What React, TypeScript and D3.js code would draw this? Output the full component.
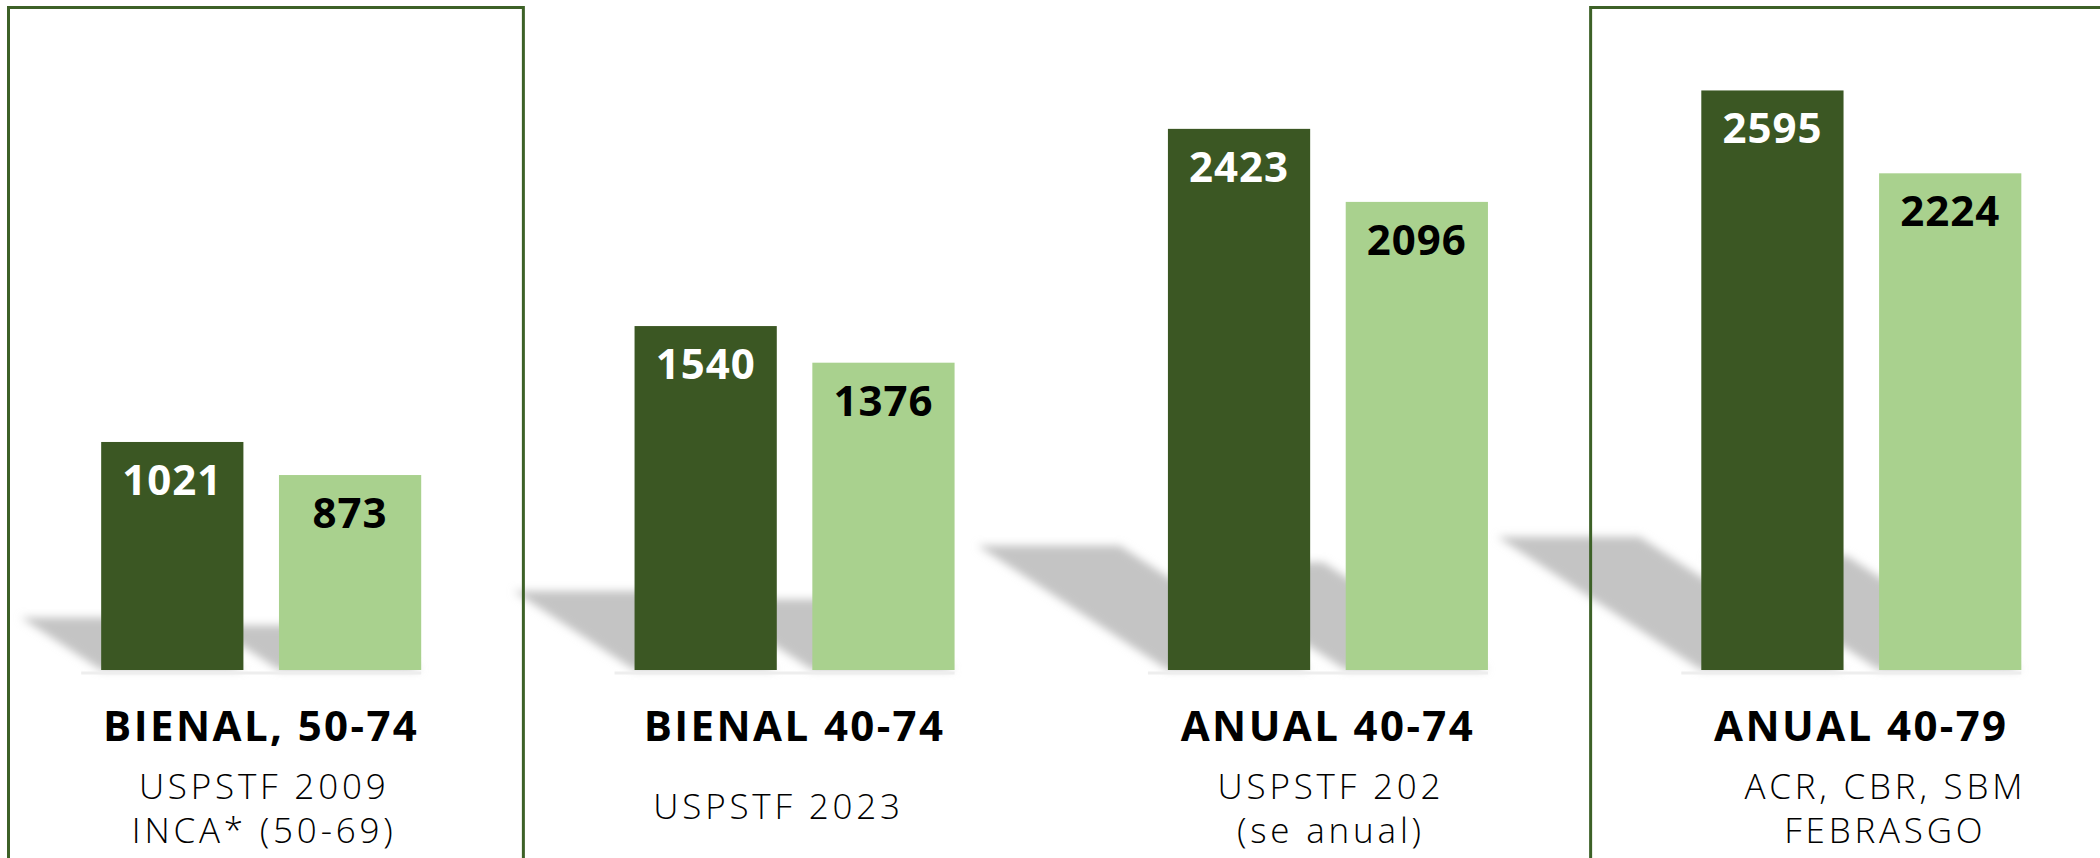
import React from "react";
import * as d3 from "d3";

const categories = ["BIENAL, 50-74", "BIENAL 40-74", "ANUAL 40-74", "ANUAL 40-79"];
const seriesKeys = ["rastreio", "comparacao"];
const darkValues = [1021, 1540, 2423, 2595];
const lightValues = [873, 1376, 2096, 2224];
const subLine1 = ["USPSTF 2009", "USPSTF 2023", "USPSTF 202", "ACR, CBR, SBM"];
const subLine2 = ["INCA* (50-69)", "", "(se anual)", "FEBRASGO"];
const highlighted = [0, 3];

const W = 2100;
const H = 858;
const BASE = 670;

const DARK = "#3b5723";
const LIGHT = "#a9d18e";
const BORDER = "#3d6127";

export default function App() {
  const x0 = d3
    .scaleBand<string>()
    .domain(categories)
    .range([-5.5, 2128])
    .paddingInner(0.4)
    .paddingOuter(0.2);
  const x1 = d3
    .scaleBand<string>()
    .domain(seriesKeys)
    .range([0, x0.bandwidth()])
    .paddingInner(0.2);
  const y = d3.scaleLinear().domain([0, 3000]).range([BASE, 0]);

  const titleFont = "'Open Sans', 'DejaVu Sans', sans-serif";

  const boxes = highlighted.map((i) => {
    const start = x0(categories[i])!;
    const end = start + x0.bandwidth();
    const left =
      i === 0 ? 8.5 : (x0(categories[i - 1])! + x0.bandwidth() + start) / 2 - 4;
    const right =
      i === categories.length - 1
        ? W + 10
        : (end + x0(categories[i + 1])!) / 2 - 4.5;
    return { left, right };
  });

  const shadowPath = (bx: number, bw: number, h: number) => {
    const s = 0.23 * h;
    const k = 1.53 * s;
    const p = d3.path();
    p.moveTo(bx, BASE);
    p.lineTo(bx + bw, BASE);
    p.lineTo(bx + bw - k, BASE - s);
    p.lineTo(bx - k, BASE - s);
    p.closePath();
    return p.toString();
  };

  return (
    <svg
      width={W}
      height={H}
      style={{ position: "absolute", left: 0, top: 0, display: "block", background: "#fff" }}
    >
      <defs>
        <filter id="blur" x="-20%" y="-40%" width="140%" height="180%">
          <feGaussianBlur stdDeviation="4" />
        </filter>
      </defs>
      <rect x={0} y={0} width={W} height={H} fill="#fff" />

      {/* shadows */}
      <g filter="url(#blur)">
        {categories.map((c, i) => {
          const gx = x0(c)!;
          const vals = [darkValues[i], lightValues[i]];
          return seriesKeys
            .slice()
            .reverse()
            .map((k) => {
              const v = vals[seriesKeys.indexOf(k)];
              return (
                <path
                  key={c + k}
                  d={shadowPath(gx + x1(k)!, x1.bandwidth(), BASE - y(v))}
                  fill="#c4c4c4"
                />
              );
            });
        })}
      </g>

      {/* baseline reflection */}
      {categories.map((c) => {
        const gx = x0(c)!;
        return (
          <rect
            key={"base" + c}
            x={gx - 20}
            y={BASE + 1.5}
            width={x0.bandwidth() + 20}
            height={3}
            fill="#eeeeee"
          />
        );
      })}

      {/* bars */}
      {categories.map((c, i) => {
        const gx = x0(c)!;
        const vals = [darkValues[i], lightValues[i]];
        return seriesKeys.map((k, j) => {
          const v = vals[j];
          const bx = gx + x1(k)!;
          return (
            <g key={c + k + "bar"}>
              <rect
                x={bx}
                y={y(v)}
                width={x1.bandwidth()}
                height={BASE - y(v)}
                fill={j === 0 ? DARK : LIGHT}
              />
              <text
                x={bx + x1.bandwidth() / 2}
                y={y(v) + 53}
                textAnchor="middle"
                fontFamily={titleFont}
                fontWeight={700}
                fontSize={42}
                letterSpacing={1}
                fill={j === 0 ? "#ffffff" : "#000000"}
              >
                {v}
              </text>
            </g>
          );
        });
      })}

      {/* category labels */}
      {categories.map((c, i) => {
        const cx = x0(c)! + x0.bandwidth() / 2;
        const single = subLine2[i] === "";
        return (
          <g key={"lab" + c}>
            <text
              x={cx}
              y={741}
              textAnchor="middle"
              fontFamily={titleFont}
              fontWeight={700}
              fontSize={42}
              letterSpacing={2.4}
              fill="#000"
            >
              {c}
            </text>
            <text
              x={single ? cx - 16 : cx + (i === 3 ? 24 : 3)}
              y={single ? 819 : 799}
              textAnchor="middle"
              fontFamily={titleFont}
              fontWeight={300}
              fontSize={35}
              letterSpacing={3.8}
              fill="#000"
            >
              {subLine1[i]}
            </text>
            {!single && (
              <text
                x={cx + (i === 3 ? 24 : 3)}
                y={843}
                textAnchor="middle"
                fontFamily={titleFont}
                fontWeight={300}
                fontSize={35}
                letterSpacing={3.8}
                fill="#000"
              >
                {subLine2[i]}
              </text>
            )}
          </g>
        );
      })}

      {/* highlight boxes */}
      {boxes.map((b, i) => (
        <rect
          key={"box" + i}
          x={b.left}
          y={7.5}
          width={b.right - b.left}
          height={H + 20}
          fill="none"
          stroke={BORDER}
          strokeWidth={3}
        />
      ))}
    </svg>
  );
}
